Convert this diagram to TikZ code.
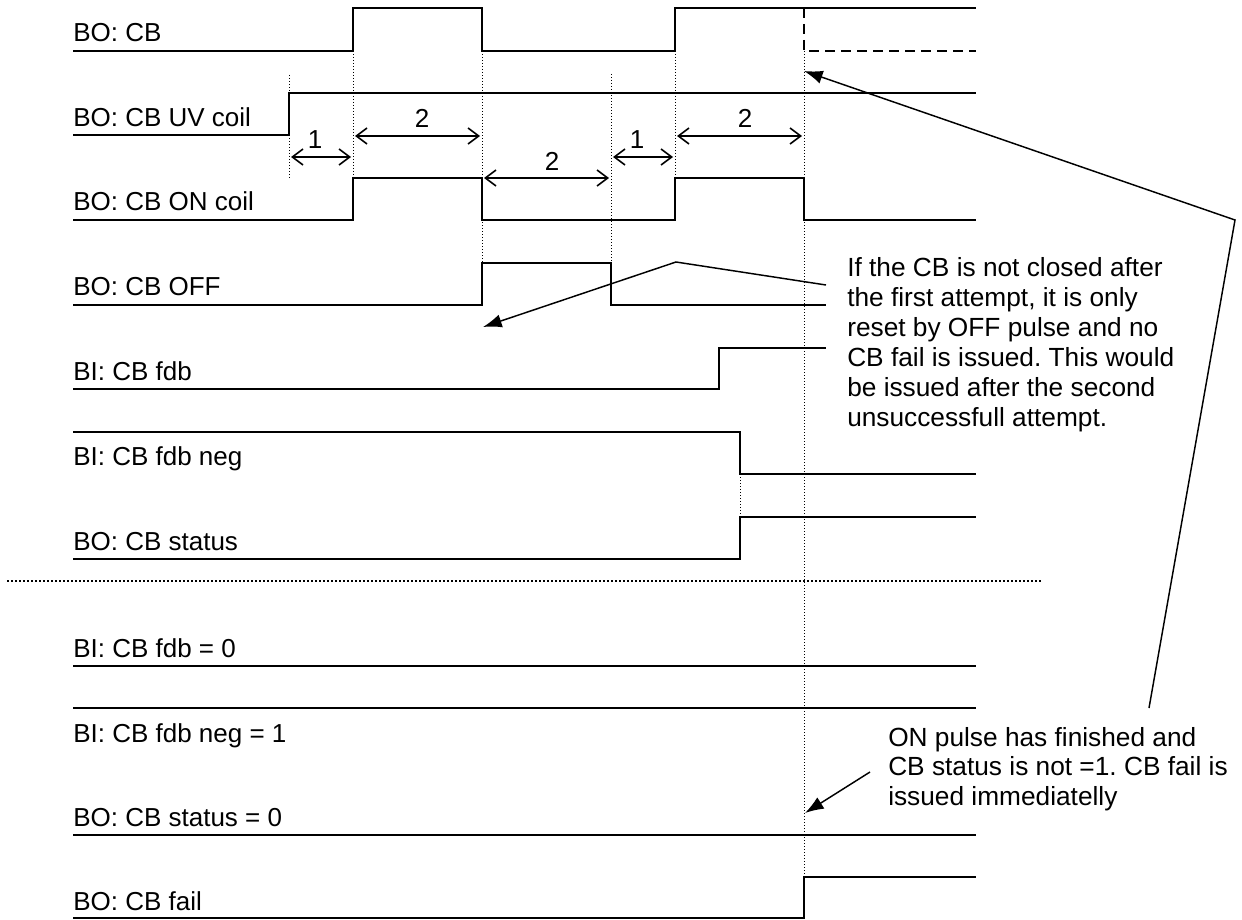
\documentclass[tikz,border=0pt]{standalone}
\usepackage{fontspec}
\setmainfont{Liberation Sans}
\usetikzlibrary{arrows.meta}
\begin{document}
\frenchspacing
\begin{tikzpicture}[x=0.75pt,y=-0.75pt,
  sig/.style={line width=1.25pt, line join=miter},
  thinsig/.style={line width=0.8pt},
  dashsig/.style={line width=1.25pt, dash pattern=on 7.5pt off 4.5pt},
  guide/.style={line width=0.75pt, dash pattern=on 0.75pt off 1.5pt},
  sepline/.style={line width=1.4pt, dash pattern=on 1.4pt off 1.6pt},
  dim/.style={line width=1.2pt, {Straight Barb[length=8pt,width=12pt]}-{Straight Barb[length=8pt,width=12pt]}},
  callout/.style={line width=1.1pt, -{Latex[length=14pt,width=10pt]}},
  lbl/.style={anchor=base west, inner sep=0pt, font=\fontsize{19.5}{22.5}\selectfont},
  num/.style={inner sep=0pt, font=\fontsize{19.5}{22.5}\selectfont},
  note/.style={anchor=north west, inner sep=0pt, align=left}
]
\useasboundingbox (0,0) rectangle (1242,920);

% ---------- guide lines (dotted) ----------
\draw[guide] (289,75) -- (289,178);
\draw[guide] (353,51) -- (353,178);
\draw[guide] (482,51) -- (482,263);
\draw[guide] (611,74) -- (611,263);
\draw[guide] (675,51) -- (675,178);
\draw[guide] (804,51) -- (804,877);
\draw[guide] (740,474) -- (740,517);
\draw[sepline] (7,581) -- (1041,581);

% ---------- signals ----------
\draw[sig] (73,51) -- (353,51) -- (353,8) -- (482,8) -- (482,51) -- (675,51) -- (675,8) -- (976,8);
\draw[dashsig] (804,8) -- (804,51) -- (976,51);
\draw[sig] (73,135) -- (289,135) -- (289,93) -- (976,93);
\draw[sig] (73,220) -- (353,220) -- (353,178) -- (482,178) -- (482,220) -- (675,220) -- (675,178) -- (804,178) -- (804,220) -- (976,220);
\draw[sig] (73,305) -- (482,305) -- (482,263) -- (611,263) -- (611,305) -- (826,305);
\draw[sig] (73,389) -- (719,389) -- (719,348) -- (826,348);
\draw[sig] (73,432) -- (740,432) -- (740,474) -- (976,474);
\draw[sig] (73,559) -- (740,559) -- (740,517) -- (976,517);
\draw[sig] (73,666) -- (976,666);
\draw[sig] (73,708) -- (868,708);
\draw[thinsig] (868,708) -- (976,708);
\draw[sig] (73,835) -- (868,835);
\draw[thinsig] (868,835) -- (976,835);
\draw[sig] (73,918) -- (804,918) -- (804,877) -- (976,877);

% ---------- signal labels ----------
\node[lbl] (l1) at (73,42) {BO: CB};
\node[lbl] (l2) at (73,127) {BO: CB UV coil};
\node[lbl] (l3) at (73,210) {BO: CB ON coil};
\node[lbl] (l4) at (73,295) {BO: CB OFF};
\node[lbl] (l5) at (73,380) {BI: CB fdb};
\node[lbl] (l6) at (73,465) {BI: CB fdb neg};
\node[lbl] (l7) at (73,550) {BO: CB status};
\node[lbl] (l8) at (73,657) {BI: CB fdb = 0};
\node[lbl] (l9) at (73,742) {BI: CB fdb neg = 1};
\node[lbl] (l10) at (73,826) {BO: CB status = 0};
\node[lbl] (l11) at (73,910) {BO: CB fail};

% ---------- time dimensions ----------
\coordinate (a1l) at (291,157); \coordinate (a1r) at (351,157);
\coordinate (a2l) at (355,136); \coordinate (a2r) at (480,136);
\coordinate (a3l) at (484,178); \coordinate (a3r) at (609,178);
\coordinate (a4l) at (613,157); \coordinate (a4r) at (673,157);
\coordinate (a5l) at (677,136); \coordinate (a5r) at (802,136);
\draw[dim] (a1l) -- (a1r);
\draw[dim] (a2l) -- (a2r);
\draw[dim] (a3l) -- (a3r);
\draw[dim] (a4l) -- (a4r);
\draw[dim] (a5l) -- (a5r);
\node[num] (n1) at (315,140) {1};
\node[num] (n2) at (422,118) {2};
\node[num] (n3) at (552,161) {2};
\node[num] (n4) at (637,140) {1};
\node[num] (n5) at (745,118) {2};

% ---------- notes ----------
\node[note, font=\fontsize{19.7}{22.5}\selectfont] (noteA) at (847,257)
  {If the CB is not closed after\\the first attempt, it is only\\reset by OFF pulse and no\\CB fail is issued. This would\\be issued after the second\\unsuccessfull attempt.};
\node[note, font=\fontsize{19.7}{22.2}\selectfont] (noteB) at (888,727)
  {ON pulse has finished and\\CB status is not =1. CB fail is\\issued immediatelly};

% ---------- callout arrows ----------
\coordinate (cA0) at (826,285);
\coordinate (cA1) at (676,262);
\coordinate (cAt) at (483,327);
\draw[callout] (cA0) -- (cA1) -- (cAt);

\coordinate (cB0) at (1149,708);
\coordinate (cB1) at (1235,220);
\coordinate (cBt) at (804,71);
\draw[callout] (cB0) -- (cB1) -- (cBt);

\coordinate (cC0) at (870,772);
\coordinate (cCt) at (805,813);
\draw[callout] (cC0) -- (cCt);
\end{tikzpicture}
\end{document}
